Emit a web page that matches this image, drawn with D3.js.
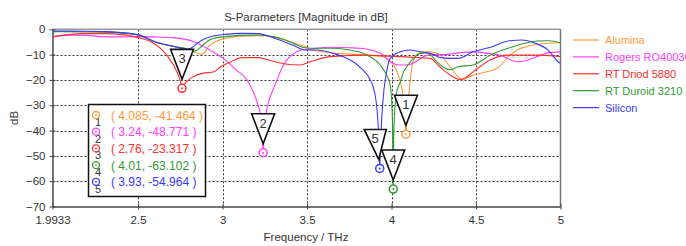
<!DOCTYPE html>
<html><head><meta charset="utf-8">
<script src="https://cdn.jsdelivr.net/npm/d3@7"></script>
<style>
html,body{margin:0;padding:0;background:#fff;}
svg text{font-family:"Liberation Sans",Arial,sans-serif;}
</style></head>
<body><svg id="c" width="686" height="246"></svg>
<script>
const seriesNames = ["Alumina","Rogers RO4003C","RT Driod 5880","RT Duroid 3210","Silicon"];
const seriesColors = ["#ff9a3c","#ff3cff","#ff2e2e","#2e9a2e","#3a3aff"];

const alumina = [[1.9933,-0.8],[2.1,-0.9],[2.28,-1.0],[2.4,-1.4],[2.5,-2.2],[2.614,-5.3],[2.709,-6.7],[2.78,-7.6],[2.85,-9.3],[2.875,-9.9],[2.9,-8.6],[2.916,-6.9],[2.96,-4.8],[3.016,-3.6],[3.1,-2.7],[3.21,-2.5],[3.3,-3.0],[3.371,-4.2],[3.43,-5.6],[3.489,-6.9],[3.519,-8.0],[3.56,-8.6],[3.655,-9.4],[3.76,-9.8],[3.856,-10.2],[3.951,-10.8],[3.992,-12.6],[4.02,-15],[4.045,-19],[4.063,-24],[4.073,-29],[4.08,-35],[4.085,-41.464],[4.091,-35],[4.099,-28],[4.108,-22],[4.117,-16.5],[4.128,-12.6],[4.15,-10.2],[4.169,-9.3],[4.2,-8.9],[4.229,-8.9],[4.26,-9.3],[4.288,-10.2],[4.347,-14.8],[4.39,-18.5],[4.418,-20.0],[4.45,-19.0],[4.483,-18.1],[4.55,-17.0],[4.625,-15.4],[4.69,-11.0],[4.743,-8.2],[4.8,-6.8],[4.861,-6.0],[4.93,-5.5],[5.0,-5.3]];
const rogers = [[1.9933,-2.9],[2.1,-2.3],[2.2,-2.4],[2.3,-3.0],[2.4,-3.0],[2.5,-2.9],[2.6,-3.0],[2.72,-3.4],[2.83,-4.9],[2.92,-8.0],[3.016,-12.1],[3.08,-16],[3.145,-20],[3.18,-24.5],[3.205,-29],[3.225,-34],[3.235,-40],[3.24,-48.771],[3.246,-40],[3.256,-34],[3.271,-29],[3.298,-24],[3.322,-20],[3.35,-15.5],[3.381,-12.1],[3.42,-9.7],[3.46,-8.3],[3.519,-7.8],[3.637,-7.1],[3.75,-7.3],[3.815,-7.5],[3.9,-8.6],[3.933,-9.4],[3.97,-11.5],[3.992,-12.8],[4.05,-14.1],[4.1,-14.0],[4.15,-12.5],[4.2,-10.5],[4.25,-10.0],[4.3,-10.0],[4.4,-9.3],[4.483,-8.9],[4.57,-9.5],[4.643,-10.2],[4.743,-12.8],[4.8,-12.3],[4.861,-10.8],[4.93,-9.2],[5.0,-8.9]];
const rtDriod = [[1.9933,-3.0],[2.05,-2.4],[2.159,-1.7],[2.3,-1.7],[2.42,-2.2],[2.5,-3.3],[2.59,-5.4],[2.67,-10.2],[2.733,-17.3],[2.75,-20.5],[2.76,-23.317],[2.77,-22.0],[2.78,-21.2],[2.821,-18.9],[2.886,-17.3],[2.945,-16.9],[2.987,-14.9],[3.046,-12.9],[3.117,-11.2],[3.21,-11.2],[3.271,-12.1],[3.371,-13.7],[3.46,-14.1],[3.519,-12.8],[3.637,-10.8],[3.815,-10.2],[3.992,-10.6],[4.11,-11.0],[4.229,-11.5],[4.288,-15.0],[4.347,-18.1],[4.39,-19.6],[4.41,-19.8],[4.44,-19.0],[4.483,-16.8],[4.584,-12.1],[4.69,-10.2],[4.8,-10.2],[4.88,-10.2],[5.0,-10.8]];
const rtDuroid = [[1.9933,-0.9],[2.1,-0.9],[2.28,-1.0],[2.4,-1.4],[2.5,-2.2],[2.614,-5.3],[2.709,-6.8],[2.78,-7.6],[2.835,-8.6],[2.88,-6.5],[2.916,-4.4],[2.96,-3.4],[3.016,-2.9],[3.1,-2.4],[3.212,-2.25],[3.3,-2.9],[3.371,-4.2],[3.43,-5.9],[3.489,-7.3],[3.56,-7.5],[3.655,-7.5],[3.755,-8.2],[3.856,-10.2],[3.933,-14.1],[3.97,-18],[3.992,-22],[4.002,-30],[4.007,-42],[4.01,-63.102],[4.013,-42],[4.019,-32],[4.03,-25],[4.051,-21],[4.07,-17],[4.093,-14.5],[4.128,-11.5],[4.169,-9.5],[4.2,-9.3],[4.229,-10.0],[4.258,-12.1],[4.317,-15.4],[4.347,-16.0],[4.394,-14.8],[4.483,-14.1],[4.584,-10.2],[4.69,-7.5],[4.79,-5.5],[4.861,-4.6],[4.93,-4.5],[5.0,-5.3]];
const silicon = [[1.9933,-0.7],[2.1,-0.7],[2.28,-0.9],[2.4,-1.3],[2.5,-2.2],[2.614,-5.2],[2.709,-6.7],[2.792,-7.9],[2.82,-7.2],[2.85,-5.5],[2.898,-3.6],[2.95,-2.6],[3.016,-2.0],[3.117,-1.6],[3.21,-1.7],[3.312,-3.6],[3.413,-6.2],[3.489,-8.2],[3.56,-8.2],[3.655,-9.5],[3.714,-10.8],[3.773,-12.8],[3.83,-16],[3.87,-19.5],[3.9,-25],[3.918,-35],[3.926,-45],[3.93,-54.964],[3.935,-45],[3.942,-35],[3.955,-24],[3.97,-17],[3.992,-11.5],[4.051,-8.9],[4.11,-8.2],[4.169,-8.9],[4.229,-9.5],[4.299,-11.3],[4.394,-11.5],[4.483,-8.9],[4.595,-6.9],[4.69,-4.6],[4.773,-4.2],[4.85,-5.5],[4.927,-8.2],[4.986,-12.8],[5.0,-13.4]];
const allSeries = [alumina, rogers, rtDriod, rtDuroid, silicon];

const markerIds = ["1","2","3","4","5"];
const markerFreq = [4.085, 3.24, 2.76, 4.01, 3.93];
const markerDb = [-41.464, -48.771, -23.317, -63.102, -54.964];
const markerText = ["( 4.085, -41.464 )","( 3.24, -48.771 )","( 2.76, -23.317 )","( 4.01, -63.102 )","( 3.93, -54.964 )"];

const xTickVals = [1.9933, 2.5, 3, 3.5, 4, 4.5, 5];
const xTickLabels = ["1.9933","2.5","3","3.5","4","4.5","5"];
const yTickVals = [0,-10,-20,-30,-40,-50,-60,-70];

const svg = d3.select("#c");
const L=52.5, R=560.5, T=29.3, B=206.5;
const x = d3.scaleLinear().domain([1.9933,5]).range([L,R]);
const y = d3.scaleLinear().domain([-70,0]).range([B,T]);

// title and labels
svg.append("text").attr("x",306).attr("y",21).attr("text-anchor","middle").attr("font-size",11.5).attr("fill","#333").text("S-Parameters [Magnitude in dB]");
svg.append("text").attr("x",306).attr("y",241).attr("text-anchor","middle").attr("font-size",11.5).attr("fill","#333").text("Frequency / THz");
svg.append("text").attr("transform",`translate(18,${(T+B)/2}) rotate(-90)`).attr("text-anchor","middle").attr("font-size",11.5).attr("fill","#333").text("dB");

// grid
const grid = svg.append("g").attr("stroke","#333").attr("stroke-width",1).attr("stroke-dasharray","2,2");
xTickVals.filter(v=>v>2 && v<5).forEach(v=>{
  grid.append("line").attr("x1",Math.round(x(v))+0.5).attr("x2",Math.round(x(v))+0.5).attr("y1",T).attr("y2",B);
});
yTickVals.filter(v=>v<0 && v>-70).forEach(v=>{
  grid.append("line").attr("y1",Math.round(y(v))+0.5).attr("y2",Math.round(y(v))+0.5).attr("x1",L).attr("x2",R);
});

// frame top/right
svg.append("line").attr("x1",L).attr("x2",R).attr("y1",T).attr("y2",T).attr("stroke","#9a9a9a").attr("stroke-width",1.5);
svg.append("line").attr("x1",R).attr("x2",R).attr("y1",T).attr("y2",B).attr("stroke","#777").attr("stroke-width",1.5);

// axes
const xAxis = d3.axisBottom(x).tickValues(xTickVals).tickFormat((d,i)=>xTickLabels[i]).tickSizeInner(3).tickSizeOuter(0).tickPadding(6);
const gx = svg.append("g").attr("transform",`translate(0,${B})`).call(xAxis);
const yAxis = d3.axisLeft(y).tickValues(yTickVals).tickFormat(d3.format("d")).tickSizeInner(3).tickSizeOuter(0).tickPadding(4);
const gy = svg.append("g").attr("transform",`translate(${L},0)`).call(yAxis);
[gx,gy].forEach(g=>{
  g.select(".domain").attr("stroke","#444").attr("stroke-width",1.5);
  g.selectAll(".tick line").attr("stroke","#444");
  g.selectAll(".tick text").attr("font-size",11.5).attr("fill","#333").attr("font-family","Liberation Sans, Arial, sans-serif");
});
gx.selectAll(".tick line").attr("y1",-3);
gy.selectAll(".tick line").attr("x1",3);

// clip
svg.append("clipPath").attr("id","clip").append("rect").attr("x",L).attr("y",T).attr("width",R-L).attr("height",B-T);

const line = d3.line().x(d=>x(d[0])).y(d=>y(d[1])).curve(d3.curveMonotoneX);
const lg = svg.append("g").attr("clip-path","url(#clip)");
allSeries.forEach((s,i)=>{
  lg.append("path").attr("d",line(s)).attr("fill","none").attr("stroke",seriesColors[i]).attr("stroke-width",1.1);
});

// markers
const skewL=[-11.5,-11.5,-11.5,-11.5,-15.5];
const skewR=[11.5,11.5,11.5,11.5,6.5];
markerIds.forEach((id,i)=>{
  const px=x(markerFreq[i]), py=y(markerDb[i]), c=seriesColors[i];
  svg.append("path").attr("d",`M${px+skewL[i]},${py-39}L${px+skewR[i]},${py-39}L${px-(i===4?1:0)},${py-9}Z`)
    .attr("fill","#fff").attr("stroke","#111").attr("stroke-width",1.6).attr("stroke-linejoin","miter");
  svg.append("text").attr("x",px+(skewL[i]+skewR[i])/2-(i===4?0:0)).attr("y",py-25).attr("text-anchor","middle").attr("font-size",13).attr("fill","#333").text(id);
  svg.append("circle").attr("cx",px).attr("cy",py).attr("r",4).attr("fill","#fff").attr("stroke",c).attr("stroke-width",1.5);
  svg.append("circle").attr("cx",px).attr("cy",py).attr("r",1).attr("fill",c);
});

// marker info box
svg.append("rect").attr("x",88.5).attr("y",104.5).attr("width",117).attr("height",92).attr("fill","#fff").attr("stroke","#111").attr("stroke-width",1.5);
markerIds.forEach((id,i)=>{
  const cy=115+i*16.7, c=seriesColors[i];
  svg.append("text").attr("x",98).attr("y",cy+11).attr("text-anchor","middle").attr("font-size",11).attr("fill","#333").text(id);
  svg.append("circle").attr("cx",96).attr("cy",cy).attr("r",3.5).attr("fill","none").attr("stroke",c).attr("stroke-width",1.3);
  svg.append("circle").attr("cx",96).attr("cy",cy).attr("r",0.9).attr("fill",c);
  svg.append("text").attr("x",111).attr("y",cy+4.5).attr("font-size",12).attr("fill",c).text(markerText[i]);
});

// legend
seriesNames.forEach((n,i)=>{
  const ly=40+i*16.9;
  svg.append("line").attr("x1",573).attr("x2",599).attr("y1",ly).attr("y2",ly).attr("stroke",seriesColors[i]).attr("stroke-width",1.2);
  svg.append("text").attr("x",605).attr("y",ly+4).attr("font-size",11).attr("fill",seriesColors[i]).text(n);
});
</script></body></html>
